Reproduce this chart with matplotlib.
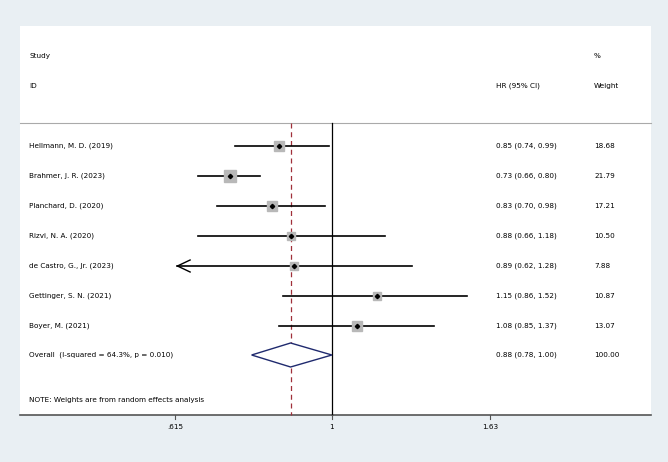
import numpy as np
import matplotlib.pyplot as plt

studies = ['Hellmann, M. D. (2019)', 'Brahmer, J. R. (2023)', 'Planchard, D. (2020)',
           'Rizvi, N. A. (2020)', 'de Castro, G., Jr. (2023)', 'Gettinger, S. N. (2021)',
           'Boyer, M. (2021)']
hr = [0.85, 0.73, 0.83, 0.88, 0.89, 1.15, 1.08]
lo = [0.74, 0.66, 0.70, 0.66, 0.62, 0.86, 0.85]
hi = [0.99, 0.80, 0.98, 1.18, 1.28, 1.52, 1.37]
weights = [18.68, 21.79, 17.21, 10.50, 7.88, 10.87, 13.07]
overall = (0.88, 0.78, 1.00)
overall_label = 'Overall  (I-squared = 64.3%, p = 0.010)'
ticks = [0.615, 1, 1.63]
tick_labels = ['.615', '1', '1.63']

fig = plt.figure(figsize=(6.68, 4.62), dpi=100)
fig.patch.set_facecolor('#e9eff3')
ax = fig.add_axes([0, 0, 1, 1])
ax.set_xscale('log')
ax.set_xlim(0.358, 2.83)
ax.set_ylim(462, 0)
ax.axis('off')

def px(x):
    return x / 668.0

# white panel
ax.add_patch(plt.Rectangle((px(20), 1 - 415 / 462), px(631), (415 - 26) / 462,
                           transform=ax.transAxes, facecolor='white', edgecolor='none', zorder=0))

fs = 5.2
tr = ax.get_yaxis_transform()
ax.text(px(29), 56, 'Study', fontsize=fs, va='center', transform=tr)
ax.text(px(29), 86, 'ID', fontsize=fs, va='center', transform=tr)
ax.text(px(496), 86, 'HR (95% CI)', fontsize=fs, va='center', transform=tr)
ax.text(px(594), 56, '%', fontsize=fs, va='center', transform=tr)
ax.text(px(594), 86, 'Weight', fontsize=fs, va='center', transform=tr)

ax.plot([px(20), px(651)], [123, 123], color='#aaaaaa', lw=0.8, transform=tr)
ax.plot([px(20), px(651)], [415, 415], color='#555555', lw=1.2, transform=tr)

ax.plot([1, 1], [123, 415], color='black', lw=0.9)
ax.plot([overall[0], overall[0]], [123, 415], color='#a0303a', lw=0.9, ls=(0, (4, 3)))

xmin_clip = 0.615
for i, s in enumerate(studies):
    y = 146 + 30 * i
    l = max(lo[i], xmin_clip)
    ax.plot([l, hi[i]], [y, y], color='black', lw=1.2)
    if lo[i] < 0.63:
        ax.plot([l * 1.04, l, l * 1.04], [y - 6, y, y + 6], color='black', lw=1.0)
    size = np.sqrt(weights[i]) * 1.8
    ax.plot(hr[i], y, 's', color='#b8b8b8', ms=size, zorder=3)
    ax.plot(hr[i], y, 'D', color='black', ms=2.2, zorder=4)
    ax.text(px(29), y, s, fontsize=fs, va='center', transform=tr)
    ax.text(px(496), y, '%.2f (%.2f, %.2f)' % (hr[i], lo[i], hi[i]), fontsize=fs,
            va='center', transform=tr)
    ax.text(px(594), y, '%.2f' % weights[i], fontsize=fs, va='center', transform=tr)

yo = 355
ax.fill([overall[1], overall[0], overall[2], overall[0], overall[1]],
        [yo, yo - 12, yo, yo + 12, yo], facecolor='white', edgecolor='#1f2a6e', lw=1.0, zorder=3)
ax.text(px(29), yo, overall_label, fontsize=fs, va='center', transform=tr)
ax.text(px(496), yo, '%.2f (%.2f, %.2f)' % overall, fontsize=fs, va='center', transform=tr)
ax.text(px(594), yo, '100.00', fontsize=fs, va='center', transform=tr)
ax.text(px(29), 400, 'NOTE: Weights are from random effects analysis', fontsize=fs,
        va='center', transform=tr)

for t, lab in zip(ticks, tick_labels):
    ax.plot([t, t], [415, 419], color='#555555', lw=0.8)
    ax.text(t, 427, lab, fontsize=fs, ha='center', va='center')

fig.savefig('out.png', dpi=100, facecolor=fig.get_facecolor())
